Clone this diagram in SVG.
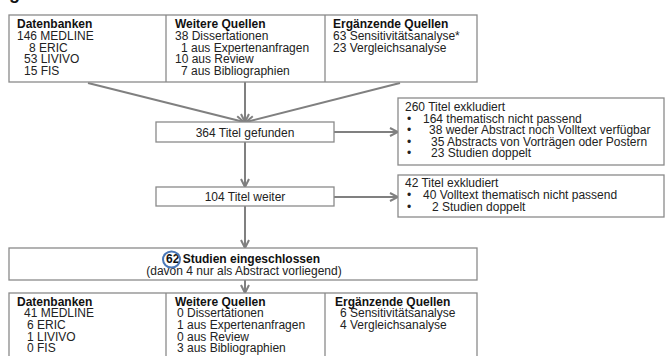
<svg xmlns="http://www.w3.org/2000/svg" width="665" height="356" viewBox="0 0 665 356">
<defs>
<style>
text{font-family:"Liberation Sans",Arial,sans-serif;font-size:12px;fill:#222}
.b{font-weight:bold;fill:#111}
.c{text-anchor:middle}
.box{fill:#fff;stroke:#8a8a8a;stroke-width:1.3}
.div{stroke:#8a8a8a;stroke-width:1.3}
.con{stroke:#808080;stroke-width:2;fill:none;marker-end:url(#ah)}
</style>
<marker id="ah" viewBox="0 0 10 10" refX="9" refY="5" markerWidth="10" markerHeight="10" markerUnits="userSpaceOnUse" orient="auto">
<path d="M1,1 L9,5 L1,9" fill="none" stroke="#808080" stroke-width="2"/>
</marker>
</defs>
<rect width="665" height="356" fill="#fff"/>
<text class="b" x="9" y="-1" style="font-size:18px">g</text>

<g id="connectors">
<path class="con" d="M88,83 L244,122"/>
<path class="con" d="M245,82 L245,122"/>
<path class="con" d="M400,83 L246,122"/>
<path class="con" d="M334,132 L398,132"/>
<path class="con" d="M245,142 L245,187"/>
<path class="con" d="M334,197 L398,197"/>
<path class="con" d="M245,206 L245,248"/>
<path class="con" d="M245,280 L245,293"/>
</g>

<g id="sources-top">
<rect class="box" x="9" y="15" width="468" height="67"/>
<line class="div" x1="166" y1="15" x2="166" y2="82"/>
<line class="div" x1="325" y1="15" x2="325" y2="82"/>
<text class="b" x="17" y="28">Datenbanken</text>
<text x="17" y="39.75">146 MEDLINE</text>
<text x="29" y="51.5">8 ERIC</text>
<text x="24" y="63.25">53 LIVIVO</text>
<text x="24" y="75">15 FIS</text>
<text class="b" x="175" y="28">Weitere Quellen</text>
<text x="175" y="39.75">38 Dissertationen</text>
<text x="181" y="51.5">1 aus Expertenanfragen</text>
<text x="175" y="63.25">10 aus Review</text>
<text x="181" y="75">7 aus Bibliographien</text>
<text class="b" x="333" y="28">Ergänzende Quellen</text>
<text x="333" y="39.75">63 Sensitivitätsanalyse*</text>
<text x="333" y="51.5">23 Vergleichsanalyse</text>
</g>

<g id="found">
<rect class="box" x="156" y="122" width="178" height="20"/>
<text class="c" x="245" y="136.5">364 Titel gefunden</text>
</g>

<g id="excl1">
<rect class="box" x="398" y="98" width="266" height="67"/>
<text x="405" y="111">260 Titel exkludiert</text>
<text x="407" y="122.5">•</text>
<text x="423" y="122.5">164 thematisch nicht passend</text>
<text x="407" y="134">•</text>
<text x="429" y="134">38 weder Abstract noch Volltext verfügbar</text>
<text x="407" y="145.5">•</text>
<text x="431" y="145.5">35 Abstracts von Vorträgen oder Postern</text>
<text x="407" y="157">•</text>
<text x="431" y="157">23 Studien doppelt</text>
</g>

<g id="further">
<rect class="box" x="156" y="187" width="178" height="19"/>
<text class="c" x="245" y="200.5">104 Titel weiter</text>
</g>

<g id="excl2">
<rect class="box" x="398" y="175" width="266" height="42"/>
<text x="405" y="186.5">42 Titel exkludiert</text>
<text x="407" y="198.5">•</text>
<text x="423" y="198.5">40 Volltext thematisch nicht passend</text>
<text x="407" y="210.5">•</text>
<text x="432" y="210.5">2 Studien doppelt</text>
</g>

<g id="included">
<rect class="box" x="9" y="248" width="468" height="32"/>
<text class="c b" x="243" y="262.5">62 Studien eingeschlossen</text>
<text class="c" x="244" y="275">(davon 4 nur als Abstract vorliegend)</text>
<ellipse cx="171.5" cy="259.5" rx="8.5" ry="8" fill="none" stroke="#4a78b8" stroke-width="2"/>
</g>

<g id="sources-bottom">
<rect class="box" x="9" y="293" width="468" height="70"/>
<line class="div" x1="166" y1="293" x2="166" y2="360"/>
<line class="div" x1="325" y1="293" x2="325" y2="360"/>
<text class="b" x="17" y="305.5">Datenbanken</text>
<text x="24" y="317">41 MEDLINE</text>
<text x="27" y="328.75">6 ERIC</text>
<text x="27" y="340.5">1 LIVIVO</text>
<text x="27" y="352.25">0 FIS</text>
<text class="b" x="175" y="305.5">Weitere Quellen</text>
<text x="177" y="317">0 Dissertationen</text>
<text x="177" y="328.75">1 aus Expertenanfragen</text>
<text x="177" y="340.5">0 aus Review</text>
<text x="177" y="352.25">3 aus Bibliographien</text>
<text class="b" x="335" y="305.5">Ergänzende Quellen</text>
<text x="340" y="317">6 Sensitivitätsanalyse</text>
<text x="340" y="328.75">4 Vergleichsanalyse</text>
</g>
</svg>
